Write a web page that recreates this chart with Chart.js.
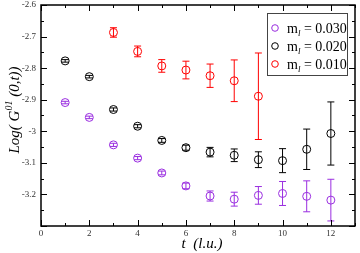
<!DOCTYPE html>
<html>
<head>
<meta charset="utf-8">
<script src="https://cdn.jsdelivr.net/npm/chart.js@4"></script>
<style>
  html, body { margin: 0; padding: 0; background: #fff; }
  #wrap { width: 360px; height: 253px; }
</style>
</head>
<body>
<div id="wrap"><canvas id="myChart" width="360" height="253"></canvas></div>
<script>
// t values (lattice units)
const tVals = [1, 2, 3, 4, 5, 6, 7, 8, 9, 10, 11, 12];
const tRed = [3, 4, 5, 6, 7, 8, 9];

// Log(G01(0,t)) per light quark mass
const m030 = [-2.909, -2.956, -3.043, -3.085, -3.132, -3.173, -3.205, -3.215, -3.203, -3.197, -3.206, -3.218];
const m030err = [0.004, 0.004, 0.005, 0.005, 0.006, 0.009, 0.016, 0.022, 0.028, 0.038, 0.049, 0.066];
const m020 = [-2.777, -2.827, -2.931, -2.984, -3.029, -3.052, -3.066, -3.076, -3.090, -3.093, -3.057, -3.007];
const m020err = [0.004, 0.004, 0.005, 0.005, 0.006, 0.008, 0.015, 0.020, 0.025, 0.038, 0.064, 0.100];
const m010 = [-2.687, -2.747, -2.793, -2.806, -2.824, -2.840, -2.889];
const m010err = [0.015, 0.017, 0.020, 0.028, 0.037, 0.066, 0.137];

const seriesLabels = ["0.030", "0.020", "0.010"];
const colors = ["#9a2ee0", "#000000", "#ff0000"];

const serif = "'Liberation Serif', 'DejaVu Serif', serif";

const toPts = (xs, ys) => xs.map((x, i) => ({ x: x, y: ys[i] }));

const errs = [m030err, m020err, m010err];

const mkSet = (i, xs, ys) => ({
  label: seriesLabels[i],
  data: toPts(xs, ys),
  borderColor: colors[i],
  backgroundColor: "rgba(0,0,0,0)",
  pointRadius: 4,
  pointBorderWidth: 1,
  pointHoverRadius: 4,
  showLine: false,
});

// error bars, frame, inward ticks, titles and legend
const extras = {
  id: "extras",
  beforeDatasetsDraw(chart) {
    const ctx = chart.ctx;
    const xs = chart.scales.x, ys = chart.scales.y;
    chart.data.datasets.forEach((ds, i) => {
      ctx.save();
      ctx.strokeStyle = colors[i];
      ctx.lineWidth = 1;
      ds.data.forEach((p, j) => {
        const e = errs[i][j];
        const px = xs.getPixelForValue(p.x);
        const y1 = ys.getPixelForValue(p.y + e);
        const y2 = ys.getPixelForValue(p.y - e);
        ctx.beginPath();
        ctx.moveTo(px, y1); ctx.lineTo(px, y2);
        ctx.moveTo(px - 3.5, y1); ctx.lineTo(px + 3.5, y1);
        ctx.moveTo(px - 3.5, y2); ctx.lineTo(px + 3.5, y2);
        ctx.stroke();
      });
      ctx.restore();
    });
  },
  afterDraw(chart) {
    const ctx = chart.ctx;
    const a = chart.chartArea;
    const xs = chart.scales.x, ys = chart.scales.y;
    ctx.save();
    ctx.strokeStyle = "#000";
    ctx.lineWidth = 1;
    // x ticks (bottom and top)
    for (let v = 0; v <= 13; v++) {
      const px = Math.round(xs.getPixelForValue(v)) + 0.5;
      const len = v % 2 === 0 ? 6 : 3;
      ctx.beginPath();
      ctx.moveTo(px, a.bottom); ctx.lineTo(px, a.bottom - len);
      ctx.moveTo(px, a.top); ctx.lineTo(px, a.top + len);
      ctx.stroke();
    }
    // y ticks (left and right)
    for (let k = 0; k <= 14; k++) {
      const v = -3.3 + k * 0.05;
      const py = Math.round(ys.getPixelForValue(v)) + 0.5;
      const len = k % 2 === 0 ? 6 : 3;
      ctx.beginPath();
      ctx.moveTo(a.left, py); ctx.lineTo(a.left + len, py);
      ctx.moveTo(a.right, py); ctx.lineTo(a.right - len, py);
      ctx.stroke();
    }
    // frame
    ctx.lineWidth = 1.5;
    ctx.strokeRect(a.left, a.top, a.right - a.left, a.bottom - a.top);

    // x title
    ctx.fillStyle = "#000";
    ctx.font = "italic 15px " + serif;
    ctx.textAlign = "center";
    ctx.textBaseline = "middle";
    ctx.fillText("t  (l.u.)", (a.left + a.right) / 2 + 4, 244);

    // y title, rotated, with superscript
    ctx.save();
    ctx.translate(15, 110);
    ctx.rotate(-Math.PI / 2);
    const parts = [
      { t: "Log( G", f: "italic 15px " + serif, dy: 0 },
      { t: "01", f: "italic 10px " + serif, dy: -6 },
      { t: " (0,t))", f: "italic 15px " + serif, dy: 0 },
    ];
    let total = 0;
    parts.forEach((p) => { ctx.font = p.f; total += ctx.measureText(p.t).width; });
    let cx = -total / 2;
    ctx.textAlign = "left";
    parts.forEach((p) => {
      ctx.font = p.f;
      ctx.fillText(p.t, cx, p.dy);
      cx += ctx.measureText(p.t).width;
    });
    ctx.restore();

    // legend
    const lx = 267, ly = 13, lw = 80, lh = 62;
    ctx.fillStyle = "#fff";
    ctx.fillRect(lx, ly, lw, lh);
    ctx.strokeStyle = "#444";
    ctx.lineWidth = 1;
    ctx.strokeRect(lx + 0.5, ly + 0.5, lw, lh);
    ctx.textAlign = "left";
    ctx.textBaseline = "alphabetic";
    const rows = [28, 46, 64];
    seriesLabels.forEach((lab, i) => {
      ctx.strokeStyle = colors[i];
      ctx.beginPath();
      ctx.arc(275, rows[i], 3.3, 0, Math.PI * 2);
      ctx.stroke();
      ctx.fillStyle = "#000";
      ctx.font = "14px " + serif;
      ctx.fillText("m", 287, rows[i] + 5);
      let w = ctx.measureText("m").width;
      ctx.font = "italic 9px " + serif;
      ctx.fillText("l", 287 + w, rows[i] + 8);
      w += ctx.measureText("l").width;
      ctx.font = "14px " + serif;
      ctx.fillText(" = " + lab, 287 + w, rows[i] + 5);
    });
    ctx.restore();
  },
};

new Chart(document.getElementById("myChart"), {
  type: "scatter",
  data: {
    datasets: [
      mkSet(0, tVals, m030),
      mkSet(1, tVals, m020),
      mkSet(2, tRed, m010),
    ],
  },
  options: {
    responsive: false,
    animation: false,
    layout: { padding: { top: 4, right: 2, left: 0, bottom: 0 } },
    plugins: { legend: { display: false }, tooltip: { enabled: false } },
    scales: {
      x: {
        type: "linear",
        min: 0,
        max: 13,
        grid: { display: false, drawTicks: false },
        border: { display: false },
        ticks: {
          stepSize: 2,
          includeBounds: false,
          padding: 2,
          color: "#333",
          font: { family: serif, size: 9 },
          maxRotation: 0,
        },
        afterFit: (s) => { s.height = 27; s.paddingLeft = 0; s.paddingRight = 0; },
      },
      y: {
        type: "linear",
        min: -3.3,
        max: -2.6,
        grid: { display: false, drawTicks: false },
        border: { display: false },
        ticks: {
          stepSize: 0.1,
          padding: 5,
          color: "#333",
          font: { family: serif, size: 9 },
          callback: (v) => (Math.abs(v + 3.3) < 1e-6 ? "" : String(+v.toFixed(1))),
        },
        afterFit: (s) => { s.width = 41; s.paddingTop = 0; s.paddingBottom = 0; },
      },
    },
  },
  plugins: [extras],
});
</script>
</body>
</html>
